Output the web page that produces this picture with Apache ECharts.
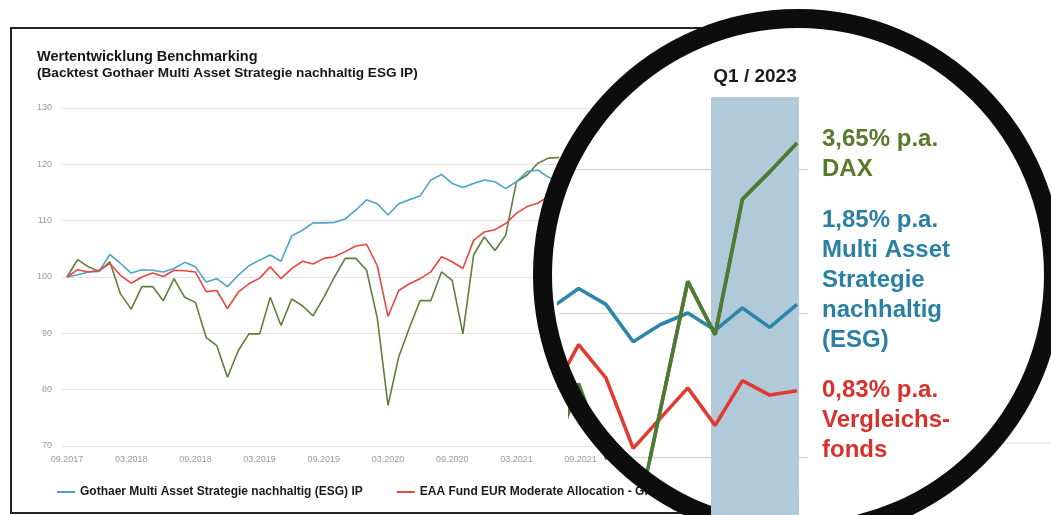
<!DOCTYPE html>
<html>
<head>
<meta charset="utf-8">
<script src="https://cdn.jsdelivr.net/npm/echarts@6/dist/echarts.min.js"></script>
<style>
html,body{margin:0;padding:0;background:#fff;}
#chart{width:1051px;height:515px;}
</style>
</head>
<body>
<div id="chart"></div>
<script>
// ---- categories (monthly, end of month) ----
const months = [
 '09.2017','10.2017','11.2017','12.2017',
 '01.2018','02.2018','03.2018','04.2018','05.2018','06.2018','07.2018','08.2018','09.2018','10.2018','11.2018','12.2018',
 '01.2019','02.2019','03.2019','04.2019','05.2019','06.2019','07.2019','08.2019','09.2019','10.2019','11.2019','12.2019',
 '01.2020','02.2020','03.2020','04.2020','05.2020','06.2020','07.2020','08.2020','09.2020','10.2020','11.2020','12.2020',
 '01.2021','02.2021','03.2021','04.2021','05.2021','06.2021','07.2021','08.2021','09.2021','10.2021','11.2021','12.2021',
 '01.2022','02.2022','03.2022','04.2022','05.2022','06.2022','07.2022','08.2022','09.2022','10.2022','11.2022','12.2022',
 '01.2023','02.2023','03.2023'
];
const yTicks = [70, 80, 90, 100, 110, 120, 130];

// ---- series values (index 100 = 09.2017); null = hidden under the magnifier ----
const gothaerValues = [
 100,100.4,100.9,101,104,102.4,100.7,101.3,101.2,100.9,101.5,102.6,101.8,99.1,99.7,98.3,
 100.3,102,103,103.9,102.8,107.3,108.3,109.6,109.6,109.7,110.3,111.9,113.7,113,111,113,
 113.7,114.4,117.2,118.2,116.6,115.9,116.6,117.2,116.9,115.7,116.9,118.7,119,117.7,117,
 null,null,null,null,null,null,null,null,null,null,
 110.35,111.7,110.6,108,109.2,110,108.8,110.35,109,110.6
];
const eaaValues = [
 100,101.3,100.9,101.2,102.4,100.3,98.9,100,100.7,100.1,101.2,101.1,100.9,97.4,97.6,94.4,
 97.3,98.8,99.8,101.8,99.7,101.5,102.8,102.3,103.3,103.6,104.5,105.5,105.8,102,93,97.6,
 98.8,99.7,100.9,103.6,102.7,101.5,106.5,108,108.4,109.5,111.3,112.5,113.1,114.3,115,
 null,null,null,null,null,null,null,null,null,null,
 104.3,107.8,105.5,100.6,102.7,104.8,102.2,105.3,104.3,104.6
];
const daxValues = [
 100,103.1,101.8,101,102.7,97,94.3,98.3,98.3,95.8,99.7,96.4,95.5,89.3,87.8,82.2,
 86.9,89.9,89.9,96.4,91.4,96.1,94.9,93.1,96.4,100,103.3,103.3,101.2,92.7,77.2,85.8,
 91,95.8,95.8,100.9,99.4,89.9,103.9,107.1,104.7,107.4,116.9,118.1,120.2,121.1,121.2,
 null,null,null,null,null,null,null,null,null,null,
 99.6,105.1,100,94.4,103.3,112.2,108.5,117.9,119.8,121.8
];

const seriesNames = [
 'Gothaer Multi Asset Strategie nachhaltig (ESG) IP',
 'EAA Fund EUR Moderate Allocation - Global',
 'DAX'
];
const zoomGridValues = [100, 110, 120];
const q1Range = [62.85, 66.07];
const labelTexts = [
 {text: '3,65% p.a.\nDAX', color: '#587a2b', y: 124},
 {text: '1,85% p.a.\nMulti Asset\nStrategie\nnachhaltig\n(ESG)', color: '#2a7fa4', y: 205},
 {text: '0,83% p.a.\nVergleichs-\nfonds', color: '#d8312c', y: 375}
];

const mainColors = ['#4ea3c9', '#e8463f', '#607f3b'];
const zoomColors = ['#2c86a8', '#e23a32', '#4f7a36'];
const FONT = '"Liberation Sans", Arial, sans-serif';

const idx = arr => arr.map((v, i) => [i, v]);

const chart = echarts.init(document.getElementById('chart'), null, {renderer: 'canvas'});

function zoomLine(name, values, color, xi, z) {
  return {name: name, type: 'line', xAxisIndex: xi, yAxisIndex: xi, data: idx(values), clip: true,
    symbol: 'none', lineStyle: {width: 3.6, color: color}, itemStyle: {color: color}, z: z};
}

const option = {
  animation: false,
  backgroundColor: '#ffffff',
  textStyle: {fontFamily: FONT},
  title: {
    left: 37, top: 49, padding: 0,
    text: 'Wertentwicklung Benchmarking',
    subtext: '(Backtest Gothaer Multi Asset Strategie nachhaltig ESG IP)',
    itemGap: 2,
    textStyle: {fontSize: 14.5, fontWeight: 'bold', color: '#151515', fontFamily: FONT},
    subtextStyle: {fontSize: 13.6, fontWeight: 'bold', color: '#151515', fontFamily: FONT}
  },
  legend: {
    data: seriesNames,
    left: 52, top: 481,
    icon: 'rect', itemWidth: 18, itemHeight: 2, itemGap: 34,
    textStyle: {fontSize: 12, fontWeight: 'bold', color: '#1a1a1a', fontFamily: FONT},
    z: 4
  },
  grid: [
    {left: 62, top: 108, width: 898, height: 338},            // main gridlines / y labels
    {left: 67, top: 108, width: 706.2, height: 338},          // main data
    {left: 559, top: 97, width: 248.92, height: 418},         // zoom: blue/red, band, gridlines
    {left: 570.4, top: 97, width: 237.51, height: 361},       // zoom: DAX (upper clip)
    {left: 625, top: 97, width: 182.91, height: 381}          // zoom: DAX (lower clip)
  ],
  xAxis: [
    {gridIndex: 0, type: 'value', min: 0, max: 1, show: false},
    {gridIndex: 1, type: 'category', data: months, boundaryGap: false,
      axisLine: {show: false}, axisTick: {show: false}, splitLine: {show: false},
      axisLabel: {interval: 5, fontSize: 9, color: '#9a9a9a', margin: 9}},
    {gridIndex: 2, type: 'value', min: 57.282, max: 66.4, show: false, splitLine: {show: false}},
    {gridIndex: 3, type: 'value', min: 57.7, max: 66.4, show: false, splitLine: {show: false}},
    {gridIndex: 4, type: 'value', min: 59.7, max: 66.4, show: false, splitLine: {show: false}}
  ],
  yAxis: [
    {gridIndex: 0, type: 'value', min: yTicks[0], max: yTicks[yTicks.length - 1], interval: 10,
      axisLine: {show: false}, axisTick: {show: false},
      axisLabel: {fontSize: 9, color: '#9a9a9a', margin: 10},
      splitLine: {lineStyle: {color: '#e3e3e3', width: 1}}},
    {gridIndex: 1, type: 'value', min: 70, max: 130, show: false, splitLine: {show: false}},
    {gridIndex: 2, type: 'value', min: 95.972, max: 125, show: false, splitLine: {show: false}},
    {gridIndex: 3, type: 'value', min: 99.93, max: 125, show: false, splitLine: {show: false}},
    {gridIndex: 4, type: 'value', min: 98.54, max: 125, show: false, splitLine: {show: false}}
  ],
  series: [
    // main chart
    {name: seriesNames[0], type: 'line', xAxisIndex: 1, yAxisIndex: 1, data: gothaerValues,
      symbol: 'none', lineStyle: {width: 1.6, color: mainColors[0]}, itemStyle: {color: mainColors[0]}, z: 3},
    {name: seriesNames[1], type: 'line', xAxisIndex: 1, yAxisIndex: 1, data: eaaValues,
      symbol: 'none', lineStyle: {width: 1.6, color: mainColors[1]}, itemStyle: {color: mainColors[1]}, z: 3},
    {name: seriesNames[2], type: 'line', xAxisIndex: 1, yAxisIndex: 1, data: daxValues,
      symbol: 'none', lineStyle: {width: 1.6, color: mainColors[2]}, itemStyle: {color: mainColors[2]}, z: 2},
    // magnified view: gridlines
    {name: 'zoom-grid', type: 'line', xAxisIndex: 2, yAxisIndex: 2, data: [[60, 110]], z: 11, silent: true,
      symbol: 'none', lineStyle: {opacity: 0},
      markLine: {
        z: 11, silent: true, symbol: ['none', 'none'], label: {show: false}, animation: false,
        lineStyle: {color: '#d8d8d8', width: 1.3, type: 'solid'},
        data: [
          [{coord: [57.3, zoomGridValues[2]]}, {coord: [66.4, zoomGridValues[2]]}],
          [{coord: [57.3, zoomGridValues[1]]}, {coord: [66.4, zoomGridValues[1]]}],
          [{coord: [59.2, zoomGridValues[0]]}, {coord: [66.4, zoomGridValues[0]]}]
        ]
      }},
    // magnified view: Q1 / 2023 band
    {name: 'zoom-band', type: 'line', xAxisIndex: 2, yAxisIndex: 2, data: [[64, 110]], z: 12, silent: true,
      symbol: 'none', lineStyle: {opacity: 0},
      markArea: {z: 12, silent: true, animation: false, itemStyle: {color: '#b0cada', opacity: 1},
        data: [[{xAxis: q1Range[0]}, {xAxis: q1Range[1]}]]}},
    // band continuation over the lens rim at the bottom edge
    {name: 'zoom-band-rim', type: 'line', xAxisIndex: 2, yAxisIndex: 2, data: [[64, 97]], z: 32, silent: true,
      symbol: 'none', lineStyle: {opacity: 0},
      markArea: {z: 32, silent: true, animation: false, itemStyle: {color: '#b0cada', opacity: 1},
        data: [[{xAxis: q1Range[0], yAxis: 97.6}, {xAxis: q1Range[1], yAxis: 95.972}]]}},
    // magnified view: lines
    zoomLine('zoom-gothaer', gothaerValues, zoomColors[0], 2, 13),
    zoomLine('zoom-eaa', eaaValues, zoomColors[1], 2, 13),
    zoomLine('zoom-dax', daxValues, zoomColors[2], 3, 14),
    zoomLine('zoom-dax-low', daxValues, zoomColors[2], 4, 14)
  ],
  graphic: [
    {type: 'rect', z: 5, silent: true,
      shape: {x: 11, y: 28, width: 860, height: 485},
      style: {fill: null, stroke: '#222', lineWidth: 2}},
    {type: 'line', z: 5, silent: true,
      shape: {x1: 995, y1: 443, x2: 1051, y2: 443},
      style: {stroke: '#e0e0e0', lineWidth: 1}},
    {type: 'ellipse', z: 10, silent: true,
      shape: {cx: 798, cy: 275, rx: 256, ry: 257},
      style: {fill: '#ffffff'}},
    {type: 'ellipse', z: 30, silent: true,
      shape: {cx: 798, cy: 275, rx: 255.5, ry: 256.5},
      style: {fill: null, stroke: '#0d0d0d', lineWidth: 19}},
    {type: 'text', z: 31, silent: true,
      style: {text: 'Q1 / 2023', x: 755, y: 77, align: 'center', verticalAlign: 'middle',
        fill: '#1c1c1c', font: 'bold 19px "Liberation Sans", Arial, sans-serif'}}
  ].concat(labelTexts.map(t => ({
    type: 'text', z: 31, silent: true,
    style: {text: t.text, x: 822, y: t.y, align: 'left', verticalAlign: 'top',
      fill: t.color, font: 'bold 24px "Liberation Sans", Arial, sans-serif', lineHeight: 30}
  })))
};

chart.setOption(option);
</script>
</body>
</html>
